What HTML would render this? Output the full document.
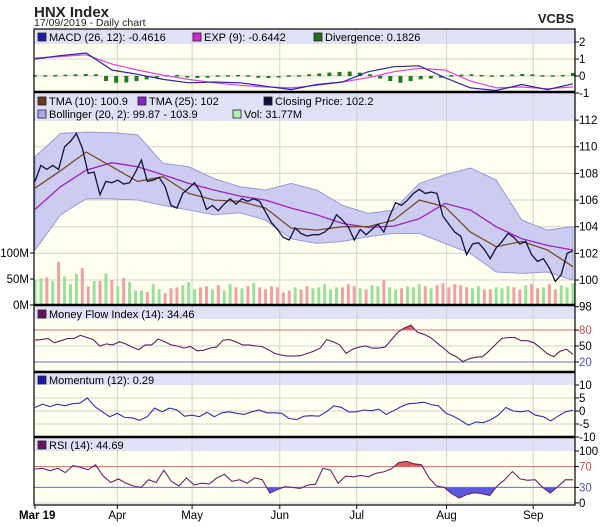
<!DOCTYPE html>
<html><head><meta charset="utf-8"><style>
body{margin:0;background:#fff;width:602px;height:527px;overflow:hidden;font-family:"Liberation Sans",sans-serif}
svg{display:block}
text{font-family:"Liberation Sans",sans-serif}
</style></head><body>
<svg id="c" width="602" height="527" xmlns="http://www.w3.org/2000/svg"></svg>
<script>
const closes=[107.4,108.6,108.3,108.6,108.3,110,110.4,111,109.9,108,108.1,106.4,107.4,107.3,107.5,107.2,107.3,108.1,109,107.4,107.5,107.7,107,105.6,105.4,106.5,106.9,107.3,106.6,105.3,105.6,105.2,105.7,106.1,105.7,106.1,105.9,106.1,105.9,105.1,104.3,103.8,103.2,103,103.9,103.5,103.3,103.4,103.4,103.6,104,104.9,104.5,104,103,103.8,103.4,103.8,104.2,103.6,104.8,105.8,105.6,106,106.5,106.8,106.5,106.6,106.5,104.8,104.2,103.6,103.3,101.9,102.7,102.8,102.3,101.6,102.4,102.9,103.5,103.2,102.7,102.9,101.9,101.4,101.6,100.9,99.9,100.4,102,102.2];
const tma10=[106.9,108.2,109.6,108.5,107.4,107.75,106.5,106,105.9,105.4,103.9,103.75,104,104,104.5,106,105.5,103.6,102.5,102.9,102.25,101];
const tma25=[105.3,107,108.25,108.8,108.5,107.9,107.25,106.75,106.3,106,105.4,104.9,104.25,103.95,104.05,104.6,105.75,105.25,104,103.1,102.6,102.25];
const bollUpper=[109.25,111,111.1,111.05,110.9,108.75,108.5,107.6,107,106.75,107.25,106.75,105.6,105,105.25,107.25,107.9,108.4,107.5,104.5,103.75,104];
const bollLower=[102.25,104.9,106.1,106.1,106,105.6,105.25,104.9,105.05,104.5,103.1,102.75,102.9,103.25,103.5,103.5,102.75,102,100.6,100.5,100.6,100];
const volumes=[48,51,53,46,83,55,40,60,71,36,46,46,60,48,36,52,44,28,28,25,40,30,23,32,34,38,44,30,34,36,30,38,28,40,34,32,36,42,34,30,36,34,24,28,34,30,36,32,34,40,30,34,34,40,36,32,30,38,36,48,34,30,32,36,34,40,36,32,38,42,34,40,38,34,32,36,30,30,34,32,36,34,30,38,40,32,34,40,30,38,34,42,36];
const macdLine=[1.0,1.2,1.35,0.35,0.1,-0.2,-0.4,-0.35,-0.4,-0.6,-0.8,-0.5,-0.35,0.25,0.55,0.6,-0.1,-0.7,-0.85,-0.5,-0.8,-0.46];
const macdSignal=[1.05,1.15,1.25,0.7,0.35,0.05,-0.2,-0.4,-0.55,-0.65,-0.7,-0.55,-0.35,-0.1,0.25,0.45,0.35,-0.3,-0.7,-0.65,-0.75,-0.64];
const divergence=[0.05,0.05,0.06,0.08,0.1,0.12,0.1,-0.3,-0.4,-0.38,-0.3,-0.2,-0.1,0.05,0.06,-0.05,-0.12,-0.1,0.04,0.05,0.06,0.05,-0.1,-0.12,-0.05,0.04,0.05,0.1,0.15,0.2,0.24,0.26,0.2,0.1,-0.15,-0.3,-0.4,-0.3,-0.2,-0.15,-0.1,0.05,0.08,0.1,0.06,0.04,0.05,0.08,0.12,0.1,0.05,0.05,0.06,0.18];
const mfi=[61,62,64,56,60,64,64,70,66,62,50,54,52,58,54,48,43,52,52,63,58,52,50,46,49,41,42,46,48,61,62,58,52,52,50,49,43,36,33,31,31,32,36,40,46,62,58,52,36,44,48,50,46,46,48,62,76,84,89,76,72,66,56,46,36,30,21,26,29,30,40,52,64,66,66,60,60,56,46,36,30,40,44,34.46];
const momentum=[1.4,2.6,1.7,2.6,2.0,2.8,3.0,5.0,1.7,-0.3,-2.2,-0.9,-2.5,-2.6,-3.6,-2.2,1.1,-0.3,1.1,0.4,-2.0,-1.6,-2.2,-0.5,-2.2,-0.7,-0.3,-0.9,-1.3,-0.3,0.4,-0.7,-0.7,-0.9,-2.9,-3.3,-2.0,-1.8,-2.0,-0.3,2.0,1.4,-0.4,-0.3,0.4,0.1,0.7,-1.3,0.1,1.7,2.8,3.0,3.4,2.5,2.0,-0.9,-2.0,-3.6,-5.5,-4.2,-4.5,-3.3,-1.6,1.4,0,-0.3,0.1,-1.6,-2.2,-3.8,-2.0,-0.3,0.29];
const rsi=[65.3,66.6,61.9,66.6,58.5,72,68.6,63.9,73.4,51.7,39.5,46.3,38.1,32.7,30,44.9,39.5,63.2,41.5,32.7,48.3,34.7,38.1,36.8,48.3,55.1,41.5,44.9,38.1,48.3,44.9,19.2,25.9,31.4,30,28,34.7,36.1,66.6,63.2,38.1,51.7,50.3,53,50.3,57.1,59.8,65.3,77.5,80.2,75.4,73.4,48.3,32.7,30,17.8,9.7,16.4,19.8,17.8,14.4,32.7,44.9,60.5,46.3,43.6,44.9,30,19.2,31.4,44.9,44.69];
const monthLabels=["Mar 19","Apr","May","Jun","Jul","Aug","Sep"];
const monthFrac=[0,0.153,0.292,0.455,0.598,0.765,0.926];
const priceTicks=[112,110,108,106,104,102,100,98];
const macdTicks=[2,1,0,-1];
const mfiTicks=[80,50,20];
const momTicks=[10,5,0,-5,-10];
const rsiTicks=[100,70,30,0];
const volTicks=[100,50,0];

const svg=document.getElementById('c');
const NS='http://www.w3.org/2000/svg';
const L=34,R=575,PL=35,PW=538;
function el(t,a,p){const e=document.createElementNS(NS,t);for(const k in a)e.setAttribute(k,a[k]);(p||svg).appendChild(e);return e;}
function X(i,n){return PL+i*PW/(n-1);}
const py=p=>306.7-(p-98)*13.33, vy=v=>305-v*0.52, my=v=>76-v*17, fy=v=>362-(v-20)*0.533, oy=v=>411-v*2.6, ry=v=>503-v*0.52;
function pts(arr,f){return arr.map((v,i)=>X(i,arr.length).toFixed(1)+','+f(v).toFixed(1)).join(' ');}
function txt(s,x,y,o){const t=el('text',Object.assign({x:x,y:y,'font-size':11,fill:'#000'},o||{}));t.textContent=s;return t;}

let t=txt('HNX Index',34,17,{'font-size':15,'font-weight':'bold',fill:'#222'});

t=txt('17/09/2019 - Daily chart',34,26,{'font-size':10.5,fill:'#222'});

t=txt('VCBS',574,23,{'font-size':13,'font-weight':'bold','text-anchor':'end',fill:'#222'});


const panels=[
 {name:'macd-panel',top:29,bot:92,hdr:15},
 {name:'price-panel',top:92,bot:305,hdr:29},
 {name:'mfi-panel',top:305,bot:372,hdr:14},
 {name:'momentum-panel',top:372,bot:437,hdr:13},
 {name:'rsi-panel',top:437,bot:505,hdr:14}];
panels.forEach(p=>{
 const r=el('rect',{x:L,y:p.top,width:R-L,height:p.bot-p.top,fill:'#fffff0'});
 
 el('rect',{x:L,y:p.top,width:R-L,height:p.hdr,fill:'#e0e0f6'});
 monthFrac.forEach((f,i)=>{if(i>0){const x=PL+f*PW;el('line',{x1:x,x2:x,y1:p.top,y2:p.bot,stroke:'#d0d0d0','stroke-width':1});}});
});
function hgrid(vals,f,top,bot,labelColor){vals.forEach(v=>{const y=f(v);if(y>top&&y<bot)el('line',{x1:L,x2:R,y1:y,y2:y,stroke:'#d0d0d0'});el('line',{x1:R,x2:R+4,y1:y,y2:y,stroke:'#000'});
 const tt=txt(String(v),R+4,y+4,{'font-size':11.5,fill:labelColor?labelColor(v):'#000'});});}
hgrid(macdTicks,my,44,92);
hgrid(priceTicks,py,121,305);
hgrid(mfiTicks,fy,319,372,v=>v==80?'#c05050':v==20?'#5050b0':'#000');
hgrid(momTicks,oy,385,437);
hgrid(rsiTicks,ry,451,505,v=>v==70?'#c05050':v==30?'#5050b0':'#000');
volTicks.forEach(v=>{const y=vy(v);el('line',{x1:L-4,x2:L,y1:y,y2:y,stroke:'#000'});const tt=txt(v+'M',L-5,y+4,{'font-size':11.5,'text-anchor':'end'});});

divergence.forEach((d,i)=>{const x=X(i,divergence.length);const b=el('rect',{x:x-2,y:Math.min(my(0),my(d)),width:4,height:Math.max(1.5,Math.abs(my(d)-my(0))),fill:'#207a20'});
 });
let l=el('polyline',{points:pts(macdSignal,my),fill:'none',stroke:'#e040e0','stroke-width':1.2});
l=el('polyline',{points:pts(macdLine,my),fill:'none',stroke:'#2828a0','stroke-width':1.2});

const up=bollUpper.map((v,i)=>X(i,bollUpper.length)+','+py(v));
const lo=bollLower.map((v,i)=>X(i,bollLower.length)+','+py(v)).reverse();
l=el('polygon',{points:up.concat(lo).join(' '),fill:'#ccccf0',stroke:'#9898d8','stroke-width':1});
volumes.forEach((v,i)=>{if(i>=closes.length)return;const x=X(i,closes.length);const upd=i==0||closes[i]>=closes[i-1];
 const b=el('rect',{x:x-1.5,y:vy(v),width:3,height:305-vy(v),fill:upd?'#98e098':'#f0a0a0'});
 });
l=el('polyline',{points:pts(tma25,py),fill:'none',stroke:'#a020c0','stroke-width':1.3});
l=el('polyline',{points:pts(tma10,py),fill:'none',stroke:'#7a4a2a','stroke-width':1.3});
l=el('polyline',{points:pts(closes,py),fill:'none',stroke:'#101040','stroke-width':1.3});

const defs=el('defs',{});
function clip(id,y1,y2){const c=el('clipPath',{id:id},defs);el('rect',{x:L,y:y1,width:R-L,height:y2-y1},c);}
function areaFill(arr,f,level,color,clipId,name){const p=pts(arr,f)+' '+X(arr.length-1,arr.length)+','+f(level)+' '+PL+','+f(level);
 const a=el('polygon',{points:p,fill:color,'clip-path':'url(#'+clipId+')'});}
clip('mfiHi',319,fy(80));clip('rsiHi',451,ry(70));clip('rsiLo',ry(30),505);
areaFill(mfi,fy,80,'#e05a5a','mfiHi','mfi-overbought-fill');
el('line',{x1:L,x2:R,y1:fy(80),y2:fy(80),stroke:'#d07070'});el('line',{x1:L,x2:R,y1:fy(20),y2:fy(20),stroke:'#7070c0'});
l=el('polyline',{points:pts(mfi,fy),fill:'none',stroke:'#602060','stroke-width':1.1});
l=el('polyline',{points:pts(momentum,oy),fill:'none',stroke:'#3030b0','stroke-width':1.1});
areaFill(rsi,ry,70,'#e05a5a','rsiHi','rsi-overbought-fill');
areaFill(rsi,ry,30,'#5858e0','rsiLo','rsi-oversold-fill');
el('line',{x1:L,x2:R,y1:ry(70),y2:ry(70),stroke:'#d07070'});el('line',{x1:L,x2:R,y1:ry(30),y2:ry(30),stroke:'#7070c0'});
l=el('polyline',{points:pts(rsi,ry),fill:'none',stroke:'#702070','stroke-width':1.1});

function leg(x,y,color,label,name){const g=el('g',{});
 el('rect',{x:x,y:y-8,width:8,height:8,fill:color,stroke:'#222','stroke-width':0.8},g);
 const tt=el('text',{x:x+11,y:y,'font-size':11,fill:'#000'},g);tt.textContent=label;}
leg(38,41,'#1a1ab0','MACD (26, 12): -0.4616','legend-macd');
leg(193,41,'#e020e0','EXP (9): -0.6442','legend-exp');
leg(314,41,'#207020','Divergence: 0.1826','legend-divergence');
leg(38,105,'#6a3a1a','TMA (10): 100.9','legend-tma10');
leg(138,105,'#8a20d0','TMA (25): 102','legend-tma25');
leg(264,105,'#101040','Closing Price: 102.2','legend-closing-price');
leg(38,118,'#aaaaee','Bollinger (20, 2): 99.87 - 103.9','legend-bollinger');
leg(233,118,'#b0f0b0','Vol: 31.77M','legend-volume');
leg(38,318,'#6a1060','Money Flow Index (14): 34.46','legend-mfi');
leg(38,384,'#1a1ab0','Momentum (12): 0.29','legend-momentum');
leg(38,449,'#6a1060','RSI (14): 44.69','legend-rsi');

el('rect',{x:L,y:29,width:R-L,height:505-29,fill:'none',stroke:'#000','stroke-width':1.2});
[92,305,372,437].forEach(y=>el('line',{x1:L,x2:R,y1:y,y2:y,stroke:'#000','stroke-width':2.5}));
monthLabels.forEach((m,i)=>{const x=PL+monthFrac[i]*PW;el('line',{x1:x,x2:x,y1:505,y2:509,stroke:'#000'});
 const tt=txt(m,i==0?x-16:x,519,{'font-size':11.5,'text-anchor':i==0?'start':'middle','font-weight':i==0?'bold':'normal'});
 });
</script>
</body></html>
